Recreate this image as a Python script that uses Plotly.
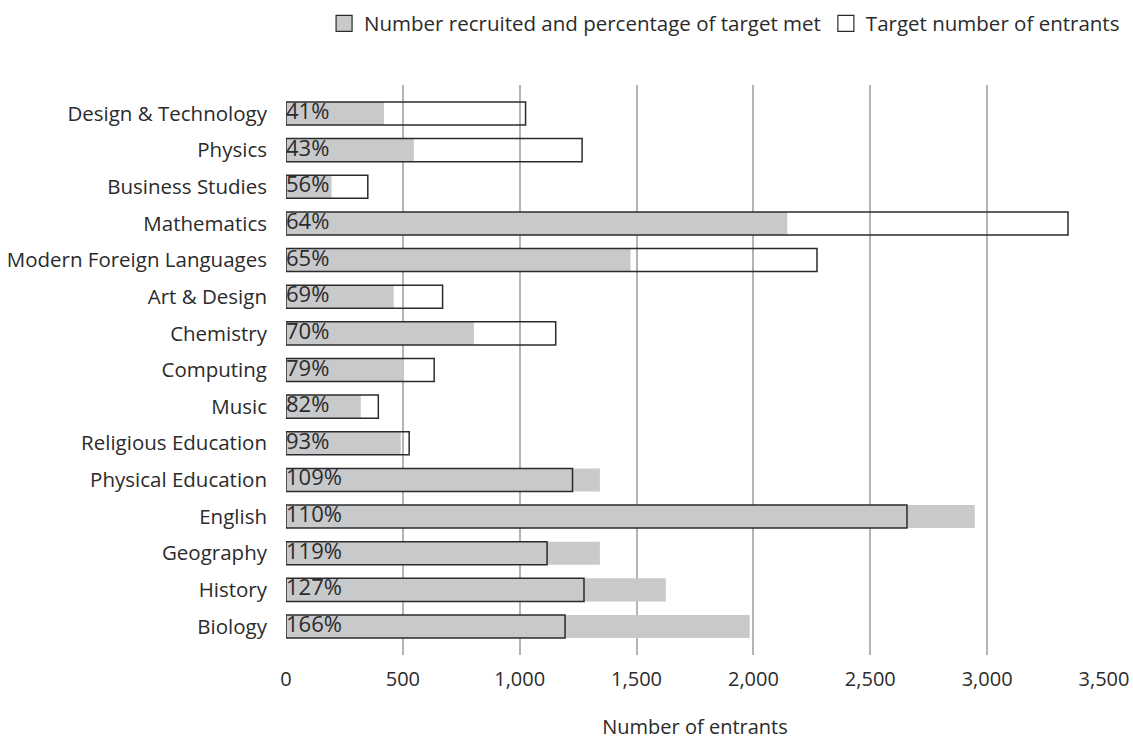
import plotly.graph_objects as go

subjects = ["Design & Technology", "Physics", "Business Studies", "Mathematics",
            "Modern Foreign Languages", "Art & Design", "Chemistry", "Computing",
            "Music", "Religious Education", "Physical Education", "English",
            "Geography", "History", "Biology"]
recruited = [419, 547, 195, 2145, 1474, 461, 804, 504, 320, 491, 1343, 2947, 1343, 1625, 1984]
target = [1025, 1267, 350, 3346, 2272, 670, 1154, 634, 395, 527, 1226, 2657, 1117, 1275, 1194]
pct_labels = ["41%", "43%", "56%", "64%", "65%", "69%", "70%", "79%", "82%", "93%",
              "109%", "110%", "119%", "127%", "166%"]
x_ticks = [0, 500, 1000, 1500, 2000, 2500, 3000, 3500]

GREY = "#c8c9cb"
DARK = "#2b2b2b"
FONT = "Open Sans"

fig = go.Figure()
fig.add_trace(go.Bar(
    y=subjects, x=recruited, orientation="h", width=0.63,
    marker=dict(color=GREY, line=dict(width=0)),
    showlegend=False, hoverinfo="skip"))
fig.add_trace(go.Bar(
    y=subjects, x=target, orientation="h", width=0.63,
    marker=dict(color="rgba(255,255,255,0)", line=dict(color=DARK, width=1.5)),
    showlegend=False, hoverinfo="skip"))
# legend entries (larger square swatches)
fig.add_trace(go.Scatter(
    y=[None], x=[None], mode="markers",
    marker=dict(symbol="square", size=16, color=GREY, line=dict(color=DARK, width=1.2)),
    name="Number recruited and percentage of target met", hoverinfo="skip"))
fig.add_trace(go.Scatter(
    y=[None], x=[None], mode="markers",
    marker=dict(symbol="square", size=16, color="white", line=dict(color=DARK, width=1.2)),
    name="Target number of entrants", hoverinfo="skip"))
fig.add_trace(go.Scatter(
    y=subjects, x=[0] * len(subjects), mode="text", text=pct_labels,
    textposition="middle right", textfont=dict(family=FONT, size=22, color=DARK),
    showlegend=False, hoverinfo="skip", cliponaxis=False))

fig.update_layout(
    width=1133, height=740,
    barmode="overlay",
    plot_bgcolor="white", paper_bgcolor="white",
    margin=dict(l=286, r=29, t=85, b=85, autoexpand=False),
    font=dict(family=FONT, size=20, color=DARK),
    legend=dict(orientation="h", xref="container", yref="container",
                x=0.993, xanchor="right", y=1 - 23.5 / 740, yanchor="middle",
                font=dict(family=FONT, size=20.5, color=DARK),
                itemsizing="trace", itemwidth=30),
    xaxis=dict(range=[0, 3500], tickvals=x_ticks, tickformat=",",
               showgrid=True, gridcolor="#b4b4b4", gridwidth=1.5,
               zeroline=False, showline=False, automargin=False,
               ticks="outside", ticklen=6, tickcolor="rgba(0,0,0,0)",
               tickfont=dict(family=FONT, size=20, color=DARK),
               title=dict(text="Number of entrants", standoff=34,
                          font=dict(family=FONT, size=20, color=DARK))),
    yaxis=dict(categoryorder="array", categoryarray=subjects,
               autorange="reversed", showgrid=False, zeroline=False,
               showline=False, ticklabelstandoff=18, automargin=False,
               tickfont=dict(family=FONT, size=20.5, color=DARK)),
)

fig.write_html("out.html", config={"displayModeBar": False},
               post_script="document.body.style.margin='0px';")
